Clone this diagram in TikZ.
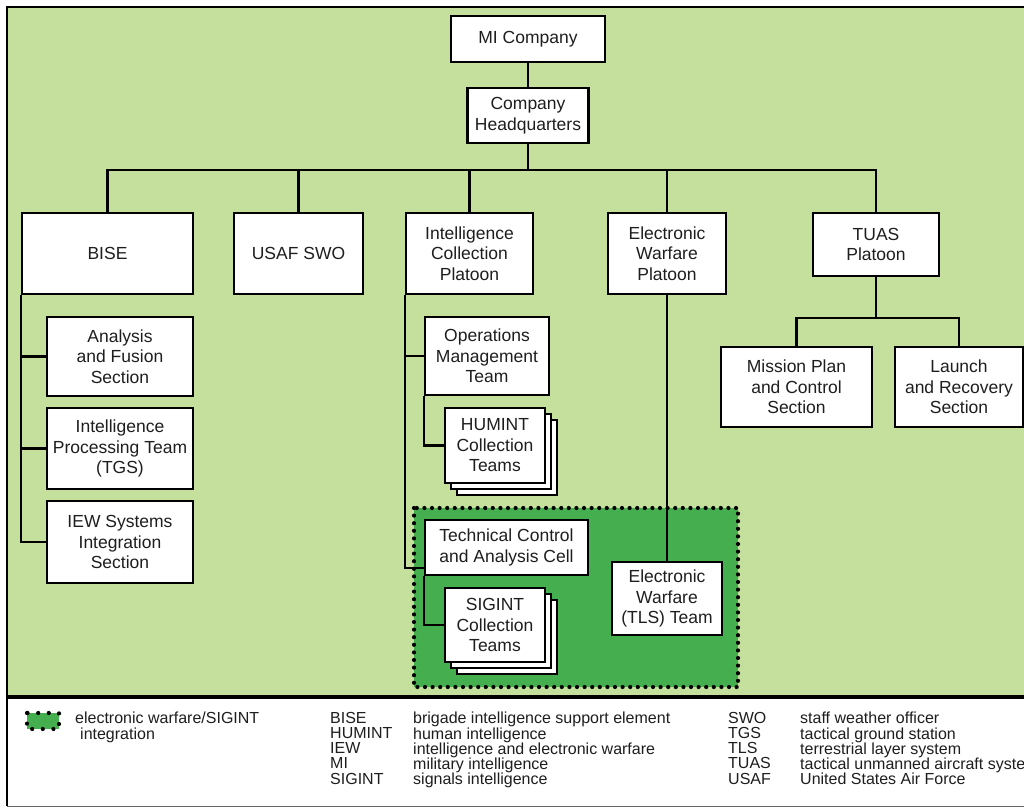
\documentclass[tikz,border=0pt]{standalone}
\usepackage{fontspec}
\setmainfont{Liberation Sans}
\usetikzlibrary{shadows}
\definecolor{fieldgreen}{HTML}{C5E09D}
\definecolor{ewgreen}{HTML}{45AE4E}
\definecolor{inkgray}{HTML}{1E1E1E}
\begin{document}
\begin{tikzpicture}[x=1pt,y=-1pt,
  box/.style={draw=black, line width=2.4pt, fill=white, align=center,
    inner sep=0pt, text=inkgray, font=\fontsize{17.5}{20.5}\selectfont},
  stackbox/.style={box,
    copy shadow={shadow xshift=12pt, shadow yshift=-12pt, draw=black, fill=white, line width=2.4pt},
    copy shadow={shadow xshift=6pt, shadow yshift=-6pt, draw=black, fill=white, line width=2.4pt}},
  link/.style={draw=black, line width=2.4pt},
  legtext/.style={anchor=north west, inner sep=0pt, align=left, text=inkgray,
    font=\fontsize{16}{15.2}\selectfont},
  dotrim/.style={draw=black, line width=4.2pt, line cap=round, dash pattern=on 0pt off 7.6pt}]

\useasboundingbox (0,0) rectangle (1024,810);

% sheet: green chart field, white legend strip, frame
\fill[white] (0,0) rectangle (1024,810);
\fill[fieldgreen] (7,7) rectangle (1040,697);
\draw[line width=2.4pt] (7,806) -- (7,7) -- (1040,7);
\draw[line width=3.2pt] (7,697) -- (1040,697);
\draw[line width=1pt, black!60] (7,806) -- (1040,806);

% electronic warfare / SIGINT integration area
\fill[ewgreen] (414,508) rectangle (738,687);
\draw[dotrim] (414,508) rectangle (738,687);

% company level
\node[box, minimum width=154pt, minimum height=46pt] (mic) at (528,39) {MI Company};
\node[box, minimum width=121pt, minimum height=55pt] (hq) at (528,115.5) {Company\\Headquarters};

% platoons and sections
\node[box, minimum width=171pt, minimum height=81pt] (bise) at (107.5,253.5) {BISE};
\node[box, minimum width=129pt, minimum height=81pt] (swo) at (298.5,253.5) {USAF SWO};
\node[box, minimum width=127pt, minimum height=81pt] (icp) at (469.5,253.5) {Intelligence\\Collection\\Platoon};
\node[box, minimum width=118pt, minimum height=81pt] (ewp) at (667,253.5) {Electronic\\Warfare\\Platoon};
\node[box, minimum width=126pt, minimum height=63pt] (tuas) at (876,244.5) {TUAS\\Platoon};

% BISE elements
\node[box, minimum width=146pt, minimum height=79pt] (afs) at (120,356.5) {Analysis\\and Fusion\\Section};
\node[box, minimum width=146pt, minimum height=81pt] (ipt) at (120,448.5) {Intelligence\\Processing Team\\(TGS)};
\node[box, minimum width=146pt, minimum height=82pt] (iew) at (120,542) {IEW Systems\\Integration\\Section};

% intelligence collection platoon elements
\node[box, minimum width=124pt, minimum height=78pt] (omt) at (487,356) {Operations\\Management\\Team};
\node[stackbox, minimum width=100pt, minimum height=75pt] (humint) at (495,445.5) {HUMINT\\Collection\\Teams};
\node[box, minimum width=163pt, minimum height=55pt] (tcac) at (506.5,547.5) {Technical Control\\and Analysis Cell};
\node[stackbox, minimum width=100pt, minimum height=74pt] (sigint) at (495,625) {SIGINT\\Collection\\Teams};

% electronic warfare platoon element
\node[box, minimum width=110pt, minimum height=73pt] (ewtls) at (667,598.5) {Electronic\\Warfare\\(TLS) Team};

% TUAS platoon elements
\node[box, minimum width=151pt, minimum height=80pt] (mpc) at (796.5,387) {Mission Plan\\and Control\\Section};
\node[box, minimum width=128pt, minimum height=80pt] (lrs) at (959,387) {Launch\\and Recovery\\Section};

% connectors
\coordinate (bus) at (528,170);
\coordinate (tbus) at (876,318);
\draw[link] (mic.south) -- (hq.north);
\draw[link] (hq.south) -- (bus);
\draw[link] (bise.north) |- (bus) -| (tuas.north);
\draw[link] (swo.north) -- (swo.north |- bus);
\draw[link] (icp.north) -- (icp.north |- bus);
\draw[link] (ewp.north) -- (ewp.north |- bus);

\draw[link] (bise.south west) |- (iew.west);
\draw[link] (afs.west) -- (afs.west -| bise.south west);
\draw[link] (ipt.west) -- (ipt.west -| bise.south west);

\draw[link] (icp.south west) |- ([yshift=8pt]tcac.south west);
\draw[link] (omt.west) -- (omt.west -| icp.south west);
\draw[link] (omt.south west) |- (humint.west);
\draw[link] (tcac.south west) |- (sigint.west);

\draw[link] (ewp.south) -- (ewtls.north);

\draw[link] (tuas.south) -- (tbus);
\draw[link] (mpc.north) |- (tbus) -| (lrs.north);

% legend
\draw[dotrim, fill=ewgreen, dash pattern=on 0pt off 10.6pt] (27,713) rectangle (59,729);
\node[legtext] (legsym) at (75,712) {electronic warfare/SIGINT\\\hspace*{5pt}integration};
\node[legtext] (abbrA) at (330,712) {BISE\\HUMINT\\IEW\\MI\\SIGINT};
\node[legtext] (defA) at (413,712) {brigade intelligence support element\\human intelligence\\intelligence and electronic warfare\\military intelligence\\signals intelligence};
\node[legtext] (abbrB) at (728,712) {SWO\\TGS\\TLS\\TUAS\\USAF};
\node[legtext] (defB) at (800,712) {staff weather officer\\tactical ground station\\terrestrial layer system\\tactical unmanned aircraft system\\United States Air Force};
\end{tikzpicture}
\end{document}
